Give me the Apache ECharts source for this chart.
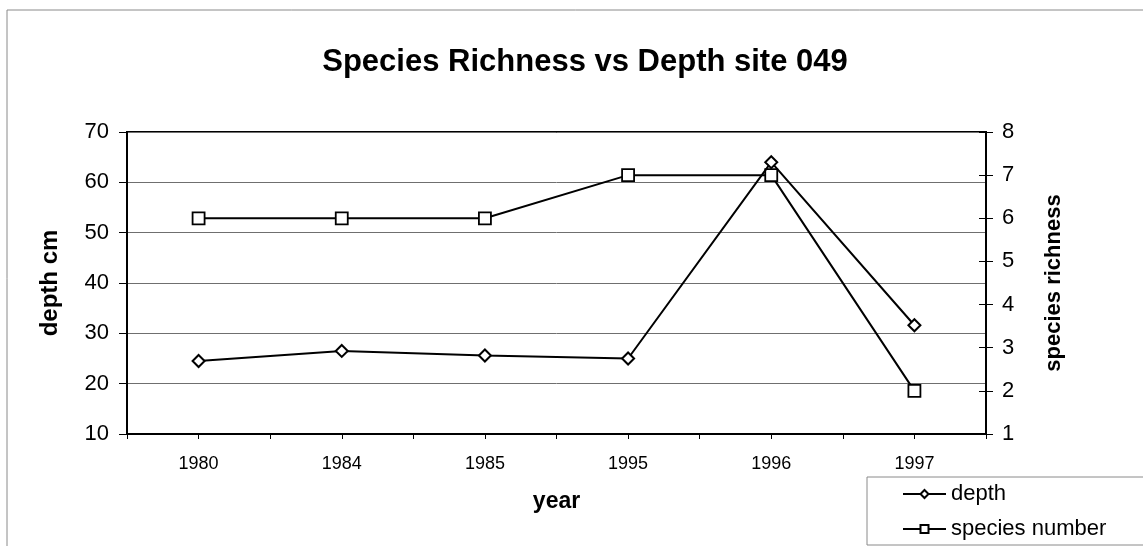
<!DOCTYPE html>
<html>
<head>
<meta charset="utf-8">
<script src="https://cdn.jsdelivr.net/npm/echarts@6/dist/echarts.min.js"></script>
<style>
  html, body { margin: 0; padding: 0; background: #fff; }
  #chart { width: 1143px; height: 546px; }
</style>
</head>
<body>
<div id="chart"></div>
<script>
// Survey years along the category axis
const years = ['1980', '1984', '1985', '1995', '1996', '1997'];
// Water depth (cm) for each survey year
const depthCm = [24.5, 26.5, 25.6, 25.0, 64.0, 31.6];
// Number of species recorded in each survey year
const speciesNumber = [6, 6, 6, 7, 7, 2];

const FONT = '"Liberation Sans", Arial, sans-serif';

const chart = echarts.init(document.getElementById('chart'), null, { renderer: 'canvas' });

chart.setOption({
  backgroundColor: '#fff',
  animation: false,
  title: {
    text: 'Species Richness vs Depth site 049',
    left: 580,
    top: 42,
    textAlign: 'center',
    textStyle: { fontFamily: FONT, fontSize: 31, fontWeight: 'bold', color: '#000' }
  },
  graphic: [
    { // outer chart frame
      type: 'rect', silent: true,
      shape: { x: 7, y: 10, width: 1150, height: 560 },
      style: { fill: 'none', stroke: '#8a8a8a', lineWidth: 1 }
    },
    { // legend frame
      type: 'rect', silent: true,
      shape: { x: 867, y: 477, width: 290, height: 68 },
      style: { fill: '#fff', stroke: '#8a8a8a', lineWidth: 1 }
    }
  ],
  legend: {
    orient: 'vertical',
    left: 902,
    top: 483,
    padding: 0,
    itemWidth: 43,
    itemHeight: 10,
    itemGap: 13,
    z: 10,
    textStyle: { fontFamily: FONT, fontSize: 22, color: '#000' },
    data: ['depth', 'species number']
  },
  grid: {
    left: 127, right: 157, top: 132, bottom: 112,
    show: true, borderColor: '#000', borderWidth: 2, backgroundColor: '#fff'
  },
  xAxis: [
    {
      type: 'category',
      data: years,
      boundaryGap: true,
      name: 'year',
      nameLocation: 'middle',
      nameGap: 56,
      nameTextStyle: { fontFamily: FONT, fontSize: 23, fontWeight: 'bold', color: '#000' },
      axisLine: { lineStyle: { color: '#000', width: 2 } },
      axisTick: { show: true, length: 5, lineStyle: { color: '#000' } },
      axisLabel: { fontFamily: FONT, fontSize: 18, color: '#000', margin: 21 },
      splitLine: { show: false }
    },
    { // half-category tick marks along the bottom edge
      type: 'value',
      position: 'bottom',
      min: 0, max: 12, interval: 1,
      axisLine: { show: false },
      axisTick: { show: true, length: 5, lineStyle: { color: '#000' } },
      axisLabel: { show: false },
      splitLine: { show: false }
    }
  ],
  yAxis: [
    {
      type: 'value',
      min: 10, max: 70, interval: 10,
      name: 'depth cm',
      nameLocation: 'middle',
      nameRotate: 90,
      nameGap: 65,
      nameTextStyle: { fontFamily: FONT, fontSize: 24, fontWeight: 'bold', color: '#000' },
      axisLine: { show: true, lineStyle: { color: '#000', width: 2 } },
      axisTick: { show: true, length: 8, lineStyle: { color: '#000' } },
      axisLabel: { fontFamily: FONT, fontSize: 22, color: '#000', margin: 18 },
      splitLine: { show: true, lineStyle: { color: '#6f6f6f', width: 1 } }
    },
    {
      type: 'value',
      position: 'right',
      min: 1, max: 8, interval: 1,
      name: 'species richness',
      nameLocation: 'middle',
      nameRotate: 90,
      nameGap: 57,
      nameTextStyle: { fontFamily: FONT, fontSize: 22, fontWeight: 'bold', color: '#000' },
      axisLine: { show: true, lineStyle: { color: '#000', width: 2 } },
      axisTick: { show: true, length: 7, lineStyle: { color: '#000' } },
      axisLabel: { fontFamily: FONT, fontSize: 22, color: '#000', margin: 16 },
      splitLine: { show: false }
    },
    { // inner half of the crossing ticks on the right axis
      type: 'value',
      position: 'right',
      min: 1, max: 8, interval: 1,
      axisLine: { show: false },
      axisTick: { show: true, inside: true, length: 7, lineStyle: { color: '#000' } },
      axisLabel: { show: false },
      splitLine: { show: false }
    }
  ],
  series: [
    {
      name: 'depth',
      type: 'line',
      xAxisIndex: 0,
      yAxisIndex: 0,
      data: depthCm,
      symbol: 'diamond',
      symbolSize: 12,
      lineStyle: { color: '#000', width: 2 },
      itemStyle: { color: '#fff', borderColor: '#000', borderWidth: 2 },
      z: 3
    },
    {
      name: 'species number',
      type: 'line',
      xAxisIndex: 0,
      yAxisIndex: 1,
      data: speciesNumber,
      symbol: 'rect',
      symbolSize: 12,
      lineStyle: { color: '#000', width: 2 },
      itemStyle: { color: '#fff', borderColor: '#000', borderWidth: 1.8 },
      z: 2
    }
  ]
});
</script>
</body>
</html>
